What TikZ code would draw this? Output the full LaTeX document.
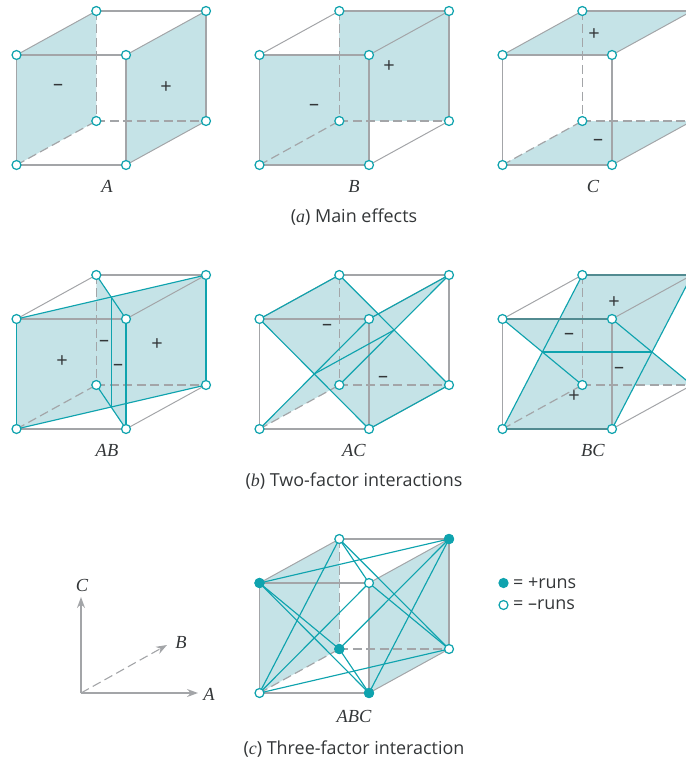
\documentclass[tikz,border=0pt]{standalone}
\usepackage{fontspec}
\setmainfont{Open Sans}
\newfontfamily\labfont{Liberation Serif}
\usetikzlibrary{arrows.meta,calc}
\definecolor{panel}{HTML}{C5E3E7}
\definecolor{tealln}{HTML}{0FA3AE}
\definecolor{edgegray}{HTML}{A3A5A8}
\definecolor{inkc}{HTML}{333638}
\tikzset{
  cubeface/.style={fill=panel,draw=none},
  cubeedge/.style={draw=edgegray,line width=1.5pt},
  cubediag/.style={draw=edgegray,line width=1pt},
  hid/.style={draw=edgegray,line width=1.2pt,dash pattern=on 9pt off 4.5pt},
  tl1/.style={draw=tealln,line width=1.15pt},
  tl2/.style={draw=tealln,line width=1.7pt},
  dkedge/.style={draw=tealln!45!edgegray!85!black,line width=1.5pt},
  vtx/.style={circle,draw=tealln,fill=white,line width=1.25pt,inner sep=0pt,minimum size=9pt},
  vtxp/.style={circle,draw=tealln,fill=tealln,line width=1.25pt,inner sep=0pt,minimum size=9pt},
  signtxt/.style={text=inkc,font=\fontsize{20}{20}\selectfont,inner sep=0pt},
  lab/.style={text=inkc,font=\labfont\itshape\fontsize{18.5}{18.5}\selectfont,inner sep=0pt},
  captxt/.style={text=inkc,font=\fontsize{18}{20}\selectfont,inner sep=0pt},
  axisline/.style={draw=edgegray,line width=1.4pt,-{Stealth[length=11pt,width=8pt]}},
}
\newcommand{\cubeat}[3]{%
  \coordinate (#1tl) at (16.5+#2,55+#3);
  \coordinate (#1tr) at (126+#2,55+#3);
  \coordinate (#1bl) at (16.5+#2,165+#3);
  \coordinate (#1br) at (126+#2,165+#3);
  \coordinate (#1Tl) at (96.3+#2,11+#3);
  \coordinate (#1Tr) at (206+#2,11+#3);
  \coordinate (#1Bl) at (96.3+#2,121+#3);
  \coordinate (#1Br) at (206+#2,121+#3);
}
\newcommand{\cubeedges}[1]{%
  \draw[cubeedge] (#1tl) -- (#1tr);
  \draw[cubeedge] (#1tr) -- (#1br);
  \draw[cubeedge] (#1br) -- (#1bl);
  \draw[cubeedge] (#1bl) -- (#1tl);
  \draw[cubeedge] (#1Tl) -- (#1Tr);
  \draw[cubeedge] (#1Tr) -- (#1Br);
  \draw[cubediag] (#1tl) -- (#1Tl);
  \draw[cubediag] (#1tr) -- (#1Tr);
  \draw[cubediag] (#1br) -- (#1Br);
  \draw[hid] (#1bl) -- (#1Bl);
  \draw[hid] (#1Bl) -- (#1Br);
  \draw[hid] (#1Tl) -- (#1Bl);
}
\newcommand{\cubeverts}[1]{%
  \foreach \v in {tl,tr,bl,br,Tl,Tr,Bl,Br}{\node[vtx] (#1\v v) at (#1\v) {};}
}
\begin{document}
\begin{tikzpicture}[x=1bp,y=-1bp]
\clip (0,0) rectangle (686,763);
% ---------- A
\cubeat{a}{0}{0}
\fill[cubeface] (atl) -- (aTl) -- (aBl) -- (abl) -- cycle;
\fill[cubeface] (atr) -- (aTr) -- (aBr) -- (abr) -- cycle;
\cubeedges{a}\cubeverts{a}
\node[signtxt] (am) at (58,87.5) {–};
\node[signtxt] (ap) at (166,88) {+};
\node[lab] (al) at (107,186) {A};
% ---------- B
\cubeat{b}{243}{0}
\fill[cubeface] (bTl) -- (bTr) -- (bBr) -- (bBl) -- cycle;
\fill[cubeface] (btl) -- (btr) -- (bbr) -- (bbl) -- cycle;
\cubeedges{b}\cubeverts{b}
\node[signtxt] (bm) at (314,107.5) {–};
\node[signtxt] (bp) at (389,67) {+};
\node[lab] (bl) at (354,186) {B};
% ---------- C
\cubeat{c}{486}{0}
\fill[cubeface] (ctl) -- (cTl) -- (cTr) -- (ctr) -- cycle;
\fill[cubeface] (cbl) -- (cBl) -- (cBr) -- (cbr) -- cycle;
\cubeedges{c}\cubeverts{c}
\node[signtxt] (cp) at (594,35) {+};
\node[signtxt] (cm) at (598,142.5) {–};
\node[lab] (cl) at (593,186) {C};
\node[captxt] (capa) at (354,217.5) {({\labfont\itshape a}) Main effects};
% ---------- AB
\cubeat{d}{0}{264}
\fill[cubeface] (dtl) -- (dTr) -- (dBr) -- (dbl) -- cycle;
\fill[cubeface] (dTl) -- (dtr) -- (dbr) -- (dBl) -- cycle;
\cubeedges{d}
\coordinate (dit) at ($(dtl)!.5!(dTr)$);
\coordinate (dib) at ($(dbl)!.5!(dBr)$);
\draw[tl1] (dtl) -- (dTr);
\draw[tl1] (dbl) -- (dBr);
\draw[tl1] (dTl) -- (dtr);
\draw[tl1] (dBl) -- (dbr);
\draw[tl1] (dit) -- (dib);
\draw[tl2] (dtl) -- (dbl);
\draw[tl2] (dtr) -- (dbr);
\draw[tl2] (dTr) -- (dBr);
\cubeverts{d}
\node[signtxt] (dp1) at (62,361.5) {+};
\node[signtxt] (dm1) at (104,343) {–};
\node[signtxt] (dm2) at (118,367) {–};
\node[signtxt] (dp2) at (157,345) {+};
\node[lab] (dl) at (107,450) {AB};
% ---------- AC
\cubeat{e}{243}{264}
\fill[cubeface] (etl) -- (eTl) -- (eBr) -- (ebr) -- cycle;
\fill[cubeface] (ebl) -- (etr) -- (eTr) -- (eBl) -- cycle;
\cubeedges{e}
\coordinate (eia) at ($(etl)!.5!(ebr)$);
\coordinate (eib) at ($(eTl)!.5!(eBr)$);
\draw[tl1] (etl) -- (eTl);
\draw[tl1] (eTl) -- (eBr);
\draw[tl1] (eBr) -- (ebr);
\draw[tl1] (ebr) -- (etl);
\draw[tl1] (ebl) -- (etr);
\draw[tl1] (etr) -- (eTr);
\draw[tl1] (eTr) -- (eBl);
\draw[tl1] (eia) -- (eib);
\cubeverts{e}
\node[signtxt] (em1) at (327,327) {–};
\node[signtxt] (em2) at (383,379) {–};
\node[lab] (el) at (354,450) {AC};
% ---------- BC
\cubeat{f}{486}{264}
\fill[cubeface] (ftl) -- (ftr) -- (fBr) -- (fBl) -- cycle;
\fill[cubeface] (fbl) -- (fbr) -- (fTr) -- (fTl) -- cycle;
\cubeedges{f}
\coordinate (fia) at ($(ftl)!.5!(fBl)$);
\coordinate (fib) at ($(ftr)!.5!(fBr)$);
\draw[tl1] (ftl) -- (fBl);
\draw[tl1] (ftr) -- (fBr);
\draw[tl1] (fbl) -- (fTl);
\draw[tl1] (fbr) -- (fTr);
\draw[tl1] (fia) -- (fib);
\draw[dkedge] (fTl) -- (fTr);
\draw[dkedge] (ftl) -- (ftr);
\draw[dkedge] (fbl) -- (fbr);
\cubeverts{f}
\node[signtxt] (fp1) at (614,303) {+};
\node[signtxt] (fm1) at (569,336) {–};
\node[signtxt] (fm2) at (619,370) {–};
\node[signtxt] (fp2) at (574,397) {+};
\node[lab] (fl) at (593,450) {BC};
\node[captxt] (capb) at (354,481.5) {({\labfont\itshape b}) Two-factor interactions};
% ---------- ABC
\cubeat{g}{243}{528}
\fill[cubeface] (gtl) -- (gTl) -- (gBl) -- (gbl) -- cycle;
\fill[cubeface] (gtr) -- (gTr) -- (gBr) -- (gbr) -- cycle;
\cubeedges{g}
\draw[tl1] (gtl) -- (gTr);
\draw[tl1] (gtl) -- (gBl);
\draw[tl1] (gtl) -- (gbr);
\draw[tl1] (gTr) -- (gBl);
\draw[tl1] (gTr) -- (gbr);
\draw[tl1] (gBl) -- (gbr);
\draw[tl1] (gTl) -- (gtr);
\draw[tl1] (gTl) -- (gbl);
\draw[tl1] (gTl) -- (gBr);
\draw[tl1] (gtr) -- (gbl);
\draw[tl1] (gtr) -- (gBr);
\draw[tl1] (gbl) -- (gBr);
\cubeverts{g}
\foreach \v in {tl,Tr,Bl,br}{\node[vtxp] (g\v p) at (g\v) {};}
\node[lab] (gl) at (354,716) {ABC};
\node[captxt] (capc) at (354,749.5) {({\labfont\itshape c}) Three-factor interaction};
% ---------- legend
\node[vtxp] (lp) at (503.5,583) {};
\node[vtx] (ln) at (503.5,605) {};
\node[captxt,anchor=west] (lpt) at (513,583) {= +runs};
\node[captxt,anchor=west] (lnt) at (513,605) {= –runs};
% ---------- axes
\coordinate (o) at (81,693);
\coordinate (xa) at (198,693);
\coordinate (ya) at (81,597);
\coordinate (za) at (167,645);
\draw[axisline] (o) -- (xa);
\draw[axisline] (o) -- (ya);
\draw[axisline,line width=1.1pt,dash pattern=on 9pt off 4.5pt] (o) -- (za);
\node[lab] (la) at (209,694.5) {A};
\node[lab] (lb) at (181,642) {B};
\node[lab] (lc) at (82,585) {C};
\end{tikzpicture}
\end{document}
